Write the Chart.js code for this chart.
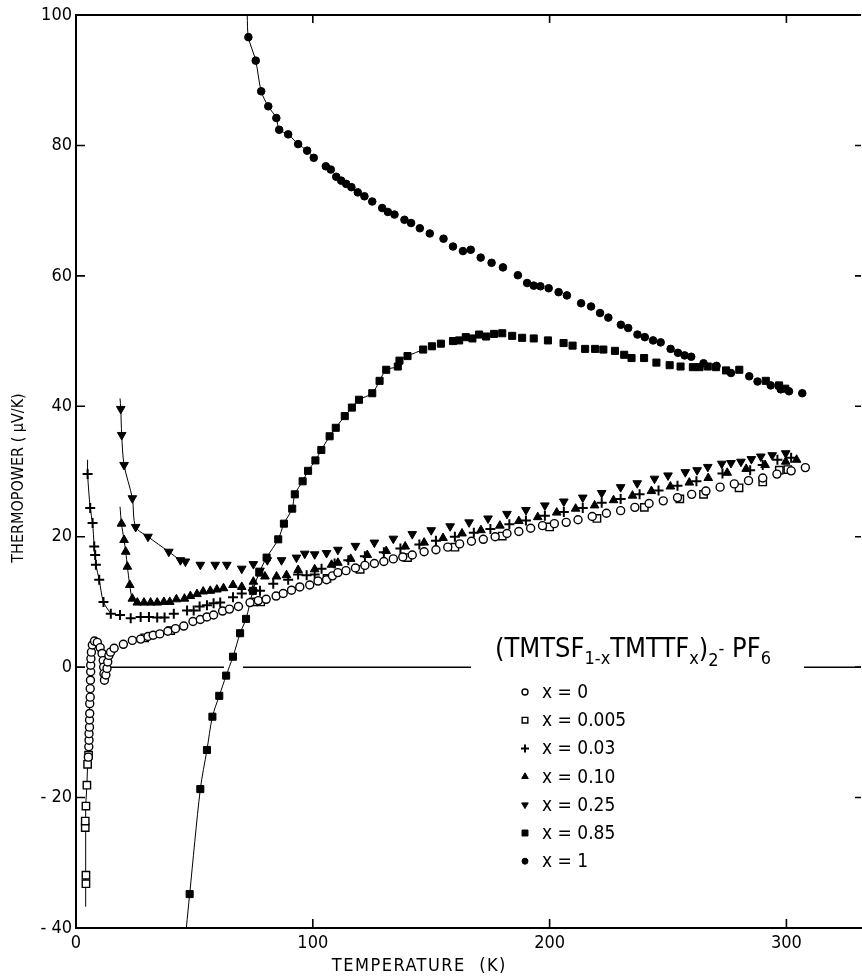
<!DOCTYPE html>
<html>
<head>
<meta charset="utf-8">
<script src="https://cdn.jsdelivr.net/npm/chart.js@4.4.1/dist/chart.umd.min.js"></script>
<style>
    html, body { margin: 0; padding: 0; background: #fff; overflow: hidden; }
    #wrap { width: 868px; height: 980px; }
</style>
</head>
<body>
<div id="wrap"><canvas id="chart" width="868" height="980"></canvas></div>
<script>
// temperature (K) / thermopower (uV/K) per sample
const t0 = [5.2, 5.4, 5.5, 5.5, 5.7, 5.7, 5.8, 5.8, 6.0, 6.0, 6.1, 6.2, 6.2, 6.3, 6.5, 6.9, 7.8, 9.0, 10.2, 11.0, 11.5, 11.7, 11.8, 12.0, 12.6, 13.1, 13.4, 13.9, 14.6, 16.1, 20.0, 23.8, 27.3, 30.4, 32.6, 35.4, 38.8, 42.0, 45.5, 49.4, 52.5, 55.3, 58.1, 61.9, 64.8, 68.6, 73.5, 77.0, 80.3, 84.5, 87.5, 91.0, 94.5, 98.7, 102.2, 105.8, 108.3, 110.6, 114, 118, 122, 126, 130, 134, 138, 142, 147, 152, 157, 162, 167, 172, 177, 182, 187, 192, 197, 202, 207, 212, 218, 224, 230, 236, 242, 248, 254, 260, 266, 272, 278, 284, 290, 296, 302, 308];
const s0 = [-13.8, -12.2, -11.2, -10.2, -9.2, -8.1, -7.1, -5.6, -4.6, -3.3, -2.0, -0.7, 0.3, 1.3, 2.3, 3.4, 4.0, 3.8, 3.0, 2.1, 1.0, 0.0, -1.0, -2.0, -1.2, -0.2, 0.8, 1.8, 2.3, 2.9, 3.5, 4.1, 4.3, 4.7, 4.9, 5.1, 5.5, 5.9, 6.3, 7.0, 7.3, 7.7, 8.0, 8.6, 8.9, 9.3, 9.9, 10.2, 10.4, 10.9, 11.3, 11.8, 12.3, 12.6, 13.2, 13.4, 14.0, 14.5, 14.8, 15.2, 15.6, 15.9, 16.2, 16.6, 16.9, 17.2, 17.7, 18.0, 18.4, 18.9, 19.3, 19.6, 20.0, 20.5, 20.8, 21.3, 21.7, 22.0, 22.2, 22.6, 23.1, 23.6, 24.0, 24.5, 25.1, 25.5, 26.0, 26.5, 27.0, 27.6, 28.1, 28.6, 29.0, 29.6, 30.1, 30.6];

const t005 = [4.2, 4.2, 3.9, 3.9, 4.2, 4.6, 4.9, 5.3, 29, 40, 75, 78, 106, 120, 140, 160, 180, 200, 220, 240, 255, 265, 280, 290, 297, 300.6];
const s005 = [-33.2, -31.9, -24.6, -23.6, -21.3, -18.1, -14.9, -13.5, 4.5, 5.6, 10.0, 10.0, 13.6, 15.0, 16.8, 18.4, 20.1, 21.5, 22.8, 24.5, 25.8, 26.5, 27.5, 28.4, 30.2, 30.3];

const t003 = [4.9, 6.0, 7.0, 7.7, 8.1, 8.4, 9.8, 11.6, 14.7, 18.6, 23.1, 27.3, 30.8, 34.3, 37.4, 41.3, 46.9, 49.7, 52.2, 55.3, 58.1, 60.9, 66.3, 70.0, 74.7, 77.7, 83.3, 89.6, 93.8, 97.4, 100.8, 103.7, 109.2, 115, 122, 130, 137, 145, 152, 160, 168, 175, 183, 190, 198, 206, 214, 222, 230, 238, 246, 254, 262, 273, 284.7, 290, 296.2, 302];
const s003 = [29.6, 24.4, 22.1, 18.5, 17.2, 15.7, 13.4, 10.0, 8.2, 8.0, 7.5, 7.7, 7.7, 7.6, 7.6, 8.2, 8.7, 8.7, 9.3, 9.5, 9.8, 9.9, 10.7, 11.3, 11.8, 11.7, 12.8, 13.4, 14.2, 14.1, 14.2, 15.1, 15.9, 16.4, 17.0, 17.6, 18.2, 18.8, 19.4, 20.0, 20.6, 21.2, 21.9, 22.5, 23.2, 23.8, 24.4, 25.2, 25.8, 26.5, 27.1, 27.8, 28.5, 29.7, 30.2, 31.0, 31.8, 32.1];

const t010 = [19.2, 20.3, 21.0, 21.7, 22.7, 23.8, 25.9, 28.7, 31.5, 34.3, 37.1, 39.6, 42.4, 45.8, 48.3, 51.1, 53.7, 56.7, 59.5, 62.3, 66.3, 70.0, 74.9, 79.8, 84.7, 88.9, 93.8, 100.8, 107.9, 110.6, 116, 123, 131, 139, 147, 155, 163, 171, 179, 187, 195, 203, 211, 219, 227, 235, 243, 251, 259, 267, 275, 283, 291, 299.7, 304.3];
const s010 = [22.0, 19.5, 17.7, 15.4, 12.6, 10.5, 9.9, 9.9, 9.9, 9.9, 10.0, 10.0, 10.4, 10.5, 10.9, 11.2, 11.6, 11.7, 11.9, 12.1, 12.6, 12.3, 13.1, 13.9, 13.9, 14.1, 14.9, 15.0, 15.7, 16.0, 16.6, 17.2, 17.8, 18.5, 19.1, 19.8, 20.5, 21.0, 21.7, 22.4, 23.0, 23.7, 24.3, 24.8, 25.6, 26.3, 27.0, 27.7, 28.3, 29.0, 29.8, 30.4, 31.0, 31.5, 31.8];

const t025 = [18.9, 19.3, 20.3, 23.8, 25.2, 30.4, 39.2, 44.1, 46.2, 52.5, 58.8, 63.7, 70.0, 74.9, 77.7, 80.8, 86.8, 93.1, 96.6, 100.8, 105.8, 110.6, 118, 126, 134, 142, 150, 158, 166, 174, 182, 190, 198, 206, 214, 222, 230, 237, 244.3, 250, 257.3, 262.3, 266.8, 272.7, 276.6, 280.8, 285.2, 289.2, 294, 299.7];
const s025 = [39.6, 35.6, 31.0, 25.9, 21.5, 20.0, 17.7, 16.4, 16.2, 15.7, 15.7, 15.7, 15.1, 15.8, 14.8, 16.4, 16.4, 16.8, 17.4, 17.3, 17.5, 18.0, 18.6, 19.1, 19.7, 20.4, 21.0, 21.6, 22.2, 22.8, 23.5, 24.1, 24.8, 25.4, 26.0, 26.7, 27.6, 28.2, 28.9, 29.4, 29.9, 30.2, 30.7, 31.2, 31.3, 31.5, 31.9, 32.3, 32.5, 32.8];

const t085 = [48.0, 52.5, 55.3, 57.6, 60.5, 63.4, 66.3, 69.3, 71.8, 74.7, 77.4, 80.5, 85.4, 87.8, 91.3, 92.4, 95.7, 98.0, 101.1, 103.6, 107.1, 109.7, 113.5, 116.5, 119.5, 125.1, 128.2, 131.0, 135.9, 136.6, 140.0, 146.6, 150.3, 154.1, 159.2, 161.8, 164.6, 167.4, 170.2, 173.2, 176.5, 180.0, 184.2, 188.4, 193.3, 199.3, 205.9, 209.7, 215.0, 219.2, 222.7, 227.6, 231.5, 234.6, 239.9, 245.1, 250.7, 255.3, 260.5, 263.3, 266.8, 270.3, 274.5, 280.1, 291.3, 296.9, 299.5];
const s085 = [-34.8, -18.7, -12.7, -7.6, -4.4, -1.3, 1.6, 5.2, 7.4, 11.7, 14.5, 16.8, 19.6, 22.0, 24.3, 26.5, 28.5, 30.1, 31.7, 33.3, 35.4, 36.7, 38.5, 39.8, 41.0, 42.0, 43.9, 45.6, 46.1, 47.0, 47.7, 48.7, 49.2, 49.6, 50.0, 50.1, 50.6, 50.4, 51.0, 50.7, 51.1, 51.2, 50.8, 50.5, 50.4, 50.1, 49.7, 49.3, 48.8, 48.8, 48.7, 48.5, 47.9, 47.4, 47.4, 46.7, 46.3, 46.1, 46.0, 46.0, 46.1, 46.0, 45.5, 45.6, 43.9, 43.2, 42.7];

const t1 = [72.8, 75.9, 78.2, 81.2, 84.6, 85.8, 89.6, 93.8, 97.6, 100.4, 105.5, 107.6, 109.9, 112.0, 114.1, 116.3, 119.0, 121.8, 125.1, 129.3, 131.7, 134.5, 138.7, 141.5, 145.2, 149.4, 155.2, 159.2, 163.4, 166.7, 170.9, 175.5, 180.3, 186.6, 190.5, 193.3, 196.1, 199.6, 203.8, 207.3, 213.3, 217.5, 221.3, 224.8, 230.1, 233.2, 237.1, 240.2, 243.7, 246.9, 251.1, 254.2, 257.0, 259.8, 265.0, 270.5, 276.6, 284.3, 287.8, 293.4, 297.6, 301.1, 306.7];
const s1 = [96.6, 93.0, 88.3, 86.0, 84.2, 82.4, 81.7, 80.2, 79.2, 78.1, 76.8, 76.3, 75.2, 74.6, 74.1, 73.6, 72.8, 72.2, 71.4, 70.4, 69.8, 69.4, 68.6, 68.1, 67.3, 66.5, 65.7, 64.5, 63.8, 64.0, 62.8, 62.0, 61.3, 60.1, 58.9, 58.5, 58.4, 58.1, 57.5, 57.0, 55.8, 55.3, 54.3, 53.6, 52.5, 52.0, 51.0, 50.6, 50.1, 49.8, 48.8, 48.2, 47.8, 47.6, 46.6, 46.2, 45.1, 44.6, 43.8, 43.2, 42.6, 42.3, 42.0];

// hand-drawn guide curves: where each starts outside the points
const guideStart1 = [72.3, 100];
const guideStart085 = [46.6, -40];
const guideStart025 = [18.6, 41.2];
const guideStart010 = [18.6, 24.6];
const guideStart003 = [4.9, 31.8];
const guideStartLow = [4.2, -36.7];

const seriesLabels = ['x = 0', 'x = 0.005', 'x = 0.03', 'x = 0.10', 'x = 0.25', 'x = 0.85', 'x = 1'];
const xTicks = [0, 100, 200, 300];
const yTicks = [-40, -20, 0, 20, 40, 60, 80, 100];

const FONT = "'Liberation Sans Narrow', 'DejaVu Sans Condensed', 'Liberation Sans', sans-serif";

function pts(t, s) {
    return t.map((v, i) => ({ x: v, y: s[i] }));
}
function upTo(t, s, maxT) {
    return pts(t, s).filter(p => p.x <= maxT);
}

const markers = [
    { pointStyle: 'circle', radius: 4, fill: '#fff', bw: 1.4, legendR: 3 },
    { pointStyle: 'rect', radius: 5.2, fill: '#fff', bw: 1.4, legendR: 4 },
    { pointStyle: 'cross', radius: 5, fill: '#000', bw: 2, legendR: 4 },
    { pointStyle: 'triangle', radius: 5, fill: '#000', bw: 1, legendR: 3.8 },
    { pointStyle: 'triangle', radius: 5, fill: '#000', bw: 1, rotation: 180, legendR: 3.8 },
    { pointStyle: 'rect', radius: 5, fill: '#000', bw: 1, legendR: 4.2 },
    { pointStyle: 'circle', radius: 3.8, fill: '#000', bw: 1, legendR: 3 }
];
const seriesData = [pts(t0, s0), pts(t005, s005), pts(t003, s003), pts(t010, s010), pts(t025, s025), pts(t085, s085), pts(t1, s1)];

const pointSets = seriesData.map((d, i) => ({
    label: seriesLabels[i],
    data: d,
    showLine: false,
    pointStyle: markers[i].pointStyle,
    pointRadius: markers[i].radius,
    pointRotation: markers[i].rotation || 0,
    pointBackgroundColor: markers[i].fill,
    pointBorderColor: '#000',
    pointBorderWidth: markers[i].bw
}));

const lowGuide = [{ x: guideStartLow[0], y: guideStartLow[1] }]
    .concat(pts(t005, s005).filter(p => p.y < -13).sort((a, b) => a.y - b.y))
    .concat(pts(t0, s0).filter(p => p.x < 7.5 && p.y < 4));

const guides = [
    [{ x: guideStart1[0], y: guideStart1[1] }].concat(upTo(t1, s1, 101)),
    [{ x: guideStart085[0], y: guideStart085[1] }].concat(upTo(t085, s085, 150)),
    [{ x: guideStart025[0], y: guideStart025[1] }].concat(upTo(t025, s025, 47)),
    [{ x: guideStart010[0], y: guideStart010[1] }].concat(upTo(t010, s010, 26)),
    [{ x: guideStart003[0], y: guideStart003[1] }].concat(upTo(t003, s003, 15)),
    lowGuide
].map(d => ({
    data: d,
    showLine: true,
    borderColor: '#000',
    borderWidth: 1,
    tension: 0.3,
    pointRadius: 0,
    order: 5
}));
guides[5].tension = 0;

const framePlugin = {
    id: 'frame',
    beforeDatasetsDraw(chart) {
        const ctx = chart.ctx;
        const xs = chart.scales.x, ys = chart.scales.y;
        const y0 = ys.getPixelForValue(0);
        ctx.save();
        ctx.strokeStyle = '#000';
        ctx.lineWidth = 1.5;
        ctx.beginPath();
        ctx.moveTo(xs.getPixelForValue(13), y0);
        ctx.lineTo(xs.getPixelForValue(62.5), y0);
        ctx.moveTo(xs.getPixelForValue(70.5), y0);
        ctx.lineTo(chart.chartArea.right, y0);
        ctx.stroke();
        ctx.restore();
    },
    afterDraw(chart) {
        const ctx = chart.ctx;
        const a = chart.chartArea;
        const xs = chart.scales.x, ys = chart.scales.y;
        ctx.save();
        ctx.strokeStyle = '#000';
        ctx.lineWidth = 2;
        ctx.beginPath();
        ctx.moveTo(a.left, a.top);
        ctx.lineTo(a.right, a.top);
        ctx.stroke();
        // inward ticks
        ctx.lineWidth = 1.6;
        ctx.beginPath();
        xTicks.slice(1).forEach(v => {
            const px = xs.getPixelForValue(v);
            ctx.moveTo(px, a.bottom); ctx.lineTo(px, a.bottom - 9);
            ctx.moveTo(px, a.top); ctx.lineTo(px, a.top + 8);
        });
        yTicks.slice(1, -1).forEach(v => {
            const py = ys.getPixelForValue(v);
            ctx.moveTo(a.left, py); ctx.lineTo(a.left + 9, py);
            ctx.moveTo(a.right, py); ctx.lineTo(a.right - 6, py);
        });
        ctx.stroke();

        // axis titles
        ctx.fillStyle = '#000';
        ctx.textAlign = 'center';
        ctx.textBaseline = 'middle';
        ctx.font = '18px ' + FONT;
        ctx.letterSpacing = '1.5px';
        ctx.fillText('TEMPERATURE  (K)', xs.getPixelForValue(145), 966);
        ctx.letterSpacing = '0px';
        ctx.font = '16px ' + FONT;
        ctx.save();
        ctx.translate(19, 478);
        ctx.rotate(-Math.PI / 2);
        ctx.fillText('THERMOPOWER ( \u03bcV/K)', 0, 0);
        ctx.restore();

        // legend title over the zero line
        ctx.fillStyle = '#fff';
        ctx.fillRect(471, 630, 333, 48);
        ctx.fillStyle = '#000';
        ctx.textAlign = 'left';
        ctx.textBaseline = 'alphabetic';
        const big = '27px ' + FONT, small = '18px ' + FONT;
        const parts = [
            ['(TMTSF', big, 0], ['1-x', small, 7], ['TMTTF', big, 0], ['x', small, 7],
            [')', big, 0], ['2', small, 9], ['-', small, -3], [' PF', big, 0], ['6', small, 7]
        ];
        let x = 495;
        const base = 657;
        parts.forEach(p => {
            ctx.font = p[1];
            ctx.fillText(p[0], x, base + p[2]);
            x += ctx.measureText(p[0]).width;
        });

        // legend entries
        ctx.font = '19px ' + FONT;
        ctx.textBaseline = 'middle';
        seriesLabels.forEach((lab, i) => {
            const y = 692 + i * 28.2;
            const m = markers[i];
            ctx.fillStyle = m.fill;
            ctx.strokeStyle = '#000';
            ctx.lineWidth = m.bw;
            Chart.helpers.drawPoint(ctx, {
                pointStyle: m.pointStyle,
                radius: m.legendR,
                rotation: m.rotation || 0,
                borderWidth: m.bw
            }, 525, y);
            ctx.fillStyle = '#000';
            ctx.fillText(lab, 542, y + 1);
        });
        ctx.restore();
    }
};

new Chart(document.getElementById('chart'), {
    type: 'scatter',
    data: { datasets: pointSets.concat(guides) },
    plugins: [framePlugin],
    options: {
        responsive: false,
        animation: false,
        events: [],
        layout: { padding: { top: 15, right: 3, left: 0, bottom: 0 } },
        plugins: { legend: { display: false }, tooltip: { enabled: false } },
        scales: {
            x: {
                type: 'linear',
                min: 0,
                max: 331.5,
                afterFit(scale) { scale.height = 52; },
                afterBuildTicks(scale) { scale.ticks = xTicks.map(v => ({ value: v })); },
                grid: { display: false, drawTicks: false },
                border: { display: true, color: '#000', width: 2 },
                ticks: { color: '#000', padding: 5, maxRotation: 0, font: { family: FONT, size: 18 } }
            },
            y: {
                type: 'linear',
                min: -40,
                max: 100,
                afterFit(scale) { scale.width = 76; },
                afterBuildTicks(scale) { scale.ticks = yTicks.map(v => ({ value: v })); },
                grid: { display: false, drawTicks: false },
                border: { display: true, color: '#000', width: 2 },
                ticks: {
                    color: '#000', padding: 4, font: { family: FONT, size: 18 },
                    callback: v => (v < 0 ? '- ' + Math.abs(v) : String(v))
                }
            }
        }
    }
});
</script>
</body>
</html>
